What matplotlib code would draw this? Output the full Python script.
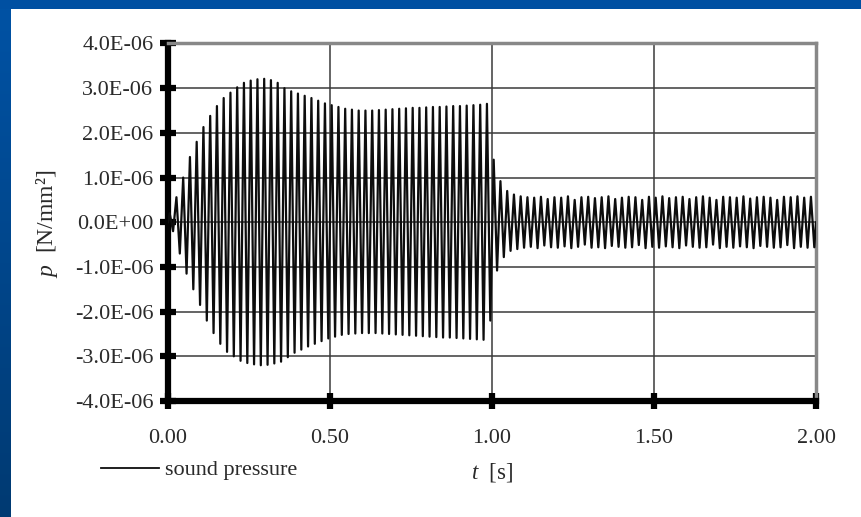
import numpy as np
import matplotlib
matplotlib.use("Agg")
import matplotlib.pyplot as plt
from matplotlib.patches import Rectangle
from matplotlib.colors import LinearSegmentedColormap
from matplotlib.ticker import FuncFormatter, FixedLocator

plt.rcParams["font.family"] = ["Liberation Serif", "DejaVu Serif"]
plt.rcParams["mathtext.fontset"] = "custom"
plt.rcParams["mathtext.rm"] = "Liberation Serif"
plt.rcParams["mathtext.it"] = "Liberation Serif:italic"

# Sound pressure record: one positive and one negative extreme per cycle (N/mm^2 x 1e-6)
cycle_period = 2.0 / 96  # s, ~48 Hz
forced_upper = [0.20, 0.56, 1.00, 1.46, 1.80, 2.13, 2.38, 2.60, 2.78, 2.90, 3.02, 3.12,
                3.17, 3.20, 3.21, 3.18, 3.12, 3.00, 2.93, 2.88, 2.83, 2.78, 2.72, 2.66,
                2.62, 2.58, 2.54, 2.52, 2.50, 2.50, 2.50, 2.51, 2.52, 2.53, 2.54, 2.55,
                2.56, 2.56, 2.57, 2.58, 2.58, 2.59, 2.60, 2.60, 2.61, 2.62, 2.63, 2.65]
forced_lower = [-0.20, -0.70, -1.15, -1.50, -1.85, -2.20, -2.48, -2.72, -2.90, -3.00, -3.10, -3.15,
                -3.18, -3.20, -3.19, -3.16, -3.12, -3.02, -2.92, -2.85, -2.78, -2.72, -2.66, -2.60,
                -2.56, -2.52, -2.50, -2.49, -2.48, -2.48, -2.48, -2.49, -2.50, -2.51, -2.52, -2.53,
                -2.54, -2.55, -2.56, -2.57, -2.58, -2.58, -2.59, -2.60, -2.61, -2.62, -2.63, -2.20]
free_upper = [1.40, 0.92, 0.70, 0.62, 0.58, 0.56, 0.55, 0.57, 0.52, 0.56, 0.55, 0.58,
              0.50, 0.56, 0.57, 0.54, 0.56, 0.58, 0.52, 0.55, 0.57, 0.56, 0.50, 0.57,
              0.55, 0.58, 0.54, 0.56, 0.57, 0.52, 0.56, 0.58, 0.55, 0.50, 0.57, 0.56,
              0.55, 0.58, 0.53, 0.56, 0.57, 0.55, 0.50, 0.57, 0.56, 0.58, 0.55, 0.57]
free_lower = [-1.08, -0.78, -0.64, -0.60, -0.57, -0.55, -0.58, -0.52, -0.56, -0.57, -0.54, -0.58,
              -0.55, -0.50, -0.57, -0.56, -0.58, -0.53, -0.55, -0.57, -0.56, -0.51, -0.58, -0.55,
              -0.57, -0.54, -0.56, -0.58, -0.52, -0.55, -0.57, -0.56, -0.50, -0.58, -0.55, -0.57,
              -0.54, -0.56, -0.58, -0.53, -0.55, -0.57, -0.56, -0.51, -0.58, -0.55, -0.57, -0.56]

y_ticks = [-4e-6, -3e-6, -2e-6, -1e-6, 0.0, 1e-6, 2e-6, 3e-6, 4e-6]
x_ticks = [0.0, 0.5, 1.0, 1.5, 2.0]

upper = np.array(forced_upper + free_upper) * 1e-6
lower = np.array(forced_lower + free_lower) * 1e-6
k = np.arange(len(upper))
t = np.empty(2 * len(k) + 2)
p = np.empty_like(t)
t[0], p[0] = 0.0, 0.0
t[1:-1:2], p[1:-1:2] = (k + 0.25) * cycle_period, upper
t[2:-1:2], p[2:-1:2] = (k + 0.75) * cycle_period, lower
t[-1], p[-1] = 2.0, 0.0

W, H = 861, 517
fig = plt.figure(figsize=(W / 100, H / 100), dpi=100, facecolor="white")

# slide frame: top bar and left gradient bar
fig.patches.append(Rectangle((0, 1 - 9 / H), 1, 9 / H, transform=fig.transFigure,
                             facecolor="#0050a2", edgecolor="none", zorder=0))
bar = fig.add_axes([0, 0, 11 / W, 1 - 9 / H])
grad = np.linspace(0, 1, 256)[:, None]
cm = LinearSegmentedColormap.from_list("slide", ["#0052a4", "#003a72"])
bar.imshow(grad, aspect="auto", cmap=cm, extent=[0, 1, 0, 1])
bar.set_axis_off()

ax = fig.add_axes([168 / W, (H - 401) / H, 648 / W, 357.5 / H])
ax.plot(t, p, color="#0d0d0d", lw=1.6, label="sound pressure", zorder=3)

ax.set_xlim(0, 2.0)
ax.set_ylim(-4e-6, 4e-6)
ax.xaxis.set_major_locator(FixedLocator(x_ticks))
ax.yaxis.set_major_locator(FixedLocator(y_ticks))
ax.xaxis.set_major_formatter(FuncFormatter(lambda v, _: f"{v:.2f}"))
ax.yaxis.set_major_formatter(FuncFormatter(lambda v, _: f"{v:.1E}"))

ax.grid(True, color="#3a3a3a", lw=1.1, zorder=1)
for side in ("left", "bottom"):
    ax.spines[side].set_linewidth(4.5)
    ax.spines[side].set_color("black")
for side in ("top", "right"):
    ax.spines[side].set_linewidth(2.5)
    ax.spines[side].set_color("#888888")

ax.tick_params(axis="both", direction="inout", length=11, width=4.5, color="black",
               labelsize=16, labelcolor="#2a2a2a")
ax.tick_params(axis="y", pad=5)
ax.tick_params(axis="x", pad=15)

fig.text(46.5 / W, 1 - 223.5 / H, r"$p$  [N/mm²]", rotation=90, ha="center", va="center",
         fontsize=17, color="#2a2a2a")
fig.text(492 / W, 1 - 472 / H, r"$t$  [s]", ha="center", va="center",
         fontsize=16.5, color="#2a2a2a")

fig.legend(loc="center left", bbox_to_anchor=(101 / W, 1 - 470 / H), frameon=False,
           borderpad=0, borderaxespad=0, handlelength=2.6, handletextpad=0.3,
           fontsize=16, labelcolor="#2a2a2a")
leg_line = fig.legends[0].get_lines()[0]
leg_line.set_linewidth(1.3)

fig.savefig("out.png", dpi=100, facecolor="white")
